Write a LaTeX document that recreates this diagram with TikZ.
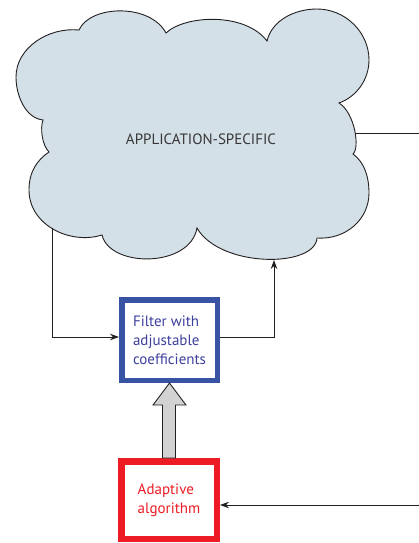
\documentclass[tikz,border=0pt]{standalone}
\usepackage{fontspec}
\setmainfont{PT Sans}
\usetikzlibrary{arrows.meta}

\definecolor{cloudfill}{RGB}{211,224,232}
\definecolor{filterblue}{RGB}{56,82,164}
\definecolor{filtertext}{RGB}{62,64,158}
\definecolor{adaptred}{RGB}{237,28,36}
\definecolor{wireblack}{RGB}{35,31,32}
\definecolor{thickgray}{RGB}{210,210,210}

\tikzset{
  wire/.style={draw=wireblack, line width=0.9pt},
  sig/.style={wire, -{Stealth[length=9pt,width=6.5pt]}},
  cloudline/.style={draw=wireblack, line width=0.9pt, fill=cloudfill},
  cloudtext/.style={text=wireblack!90, font=\fontsize{15}{17}\selectfont},
  filterbox/.style={draw=filterblue, line width=5.5pt, fill=white,
    text=filtertext, minimum width=95.5pt, minimum height=80.5pt,
    align=left, inner sep=0pt, font=\fontsize{15}{19}\selectfont},
  adaptbox/.style={draw=adaptred, line width=6.5pt, fill=white,
    text=adaptred, minimum width=95.5pt, minimum height=77.5pt,
    align=left, inner sep=0pt, font=\fontsize{15}{19}\selectfont},
  bigarrow/.style={draw=wireblack, line width=0.9pt, fill=thickgray}
}

\begin{document}
\begin{tikzpicture}[x=1pt,y=-1pt]
  \useasboundingbox (0,0) rectangle (419,543);

  % the cloud, bump by bump
  \draw[cloudline] (43,120)
    .. controls (25,118) and (16,95) .. (16,77)
    .. controls (16,48) and (48,27) .. (79,30)
    .. controls (90,5) and (150,3) .. (166,33)
    .. controls (185,15) and (245,12) .. (267,41)
    .. controls (272,20) and (295,9) .. (317,9)
    .. controls (345,9) and (369,32) .. (369,60)
    .. controls (369,80) and (356,97) .. (339,103)
    .. controls (355,113) and (360,148) .. (353,154)
    .. controls (364,162) and (369,176) .. (369,193)
    .. controls (369,220) and (345,240) .. (317,238)
    .. controls (315,268) and (220,268) .. (197,228)
    .. controls (190,268) and (110,268) .. (102,235)
    .. controls (70,245) and (29,225) .. (29,190)
    .. controls (29,172) and (37,160) .. (49,152)
    .. controls (42,145) and (40,128) .. cycle;
  \node[cloudtext] (cloud) at (201,139) {APPLICATION-SPECIFIC};

  \coordinate (cloudleft) at (52,228);
  \coordinate (cloudright) at (355,133);
  \coordinate (cloudbottom) at (274,260);
  \coordinate (outedge) at (419,133);
  \coordinate (inedge) at (419,505);

  \node[filterbox] (filter) at (169.5,340) {Filter with\\adjustable\\coefficients};
  \node[adaptbox] (adapt) at (169,500) {Adaptive\\algorithm};

  \draw[sig] (cloudleft) |- ([yshift=3pt]filter.west);
  \draw[sig] ([yshift=3pt]filter.east) -| (cloudbottom);
  \draw[wire] (cloudright) -- (outedge);
  \draw[sig] (inedge) -- (inedge -| adapt.east);

  % wide arrow from the algorithm up to the filter
  \draw[bigarrow] ([xshift=-6.5pt]adapt.north)
    |- ([xshift=-16.5pt,yshift=-22pt]filter.south) -- (filter.south)
    -- ([xshift=16.5pt,yshift=-22pt]filter.south)
    -| ([xshift=6.5pt]adapt.north) -- cycle;
\end{tikzpicture}
\end{document}
